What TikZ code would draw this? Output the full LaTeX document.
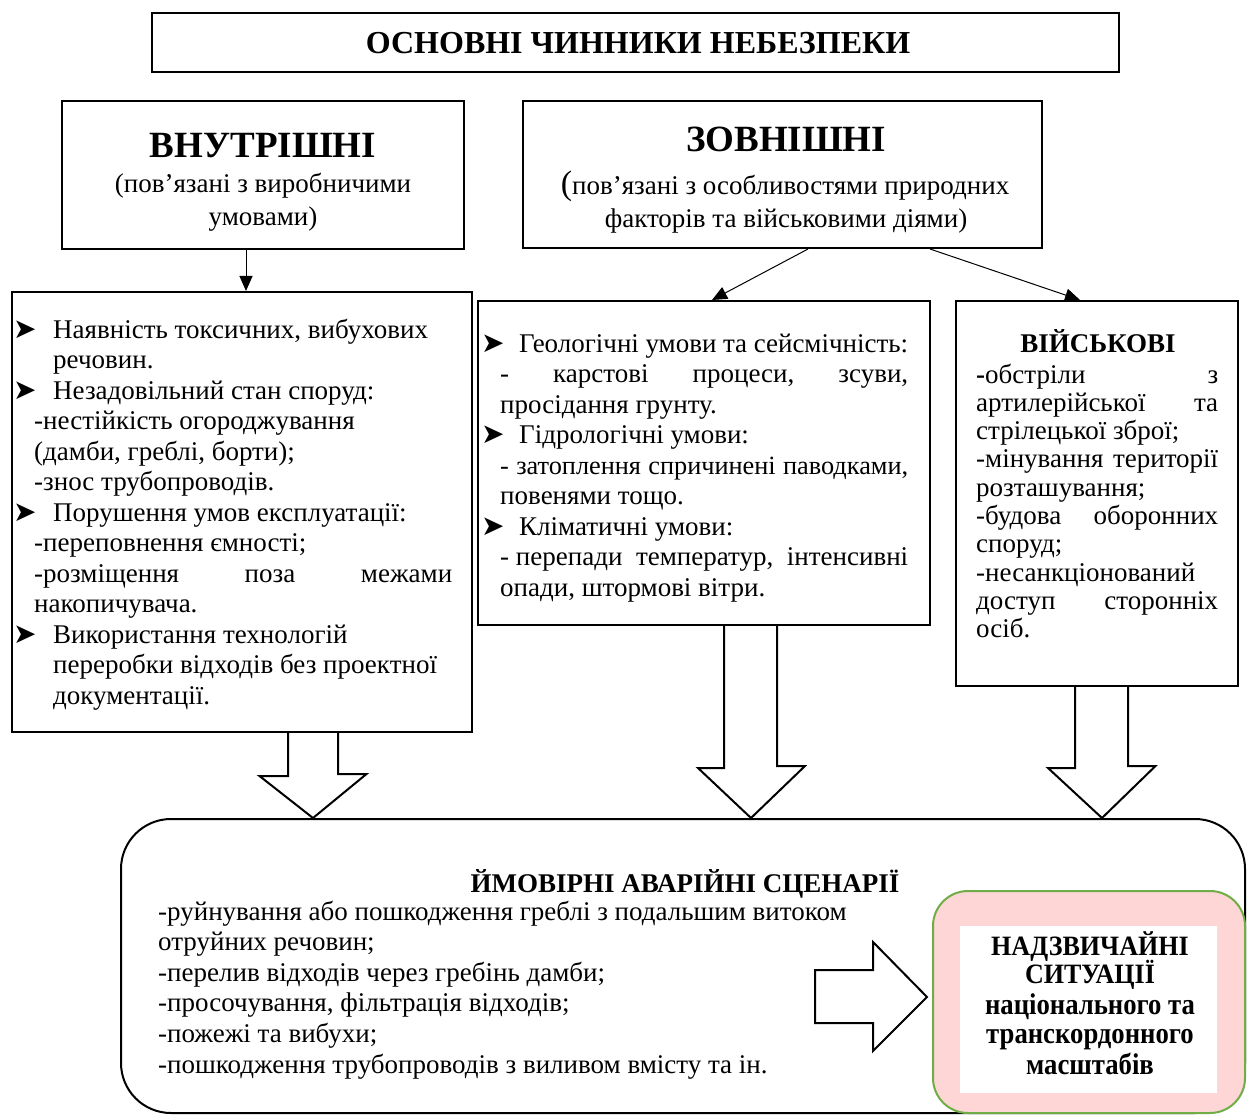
\documentclass[tikz,border=0pt]{standalone}
\usepackage{fontspec}
\usepackage{graphicx}
\setmainfont{Liberation Serif}
\newfontfamily\dvfont{DejaVu Sans}
\usetikzlibrary{arrows.meta,calc}
\definecolor{pinkfill}{RGB}{255,214,214}
\definecolor{greenline}{RGB}{112,173,71}
\newcommand\bulA{\makebox[39pt][l]{\hspace*{-1pt}\raisebox{0pt}{\dvfont\fontsize{28}{28}\selectfont ➤}}}
\newcommand\bulB{\makebox[37pt][l]{\hspace*{-1pt}\raisebox{0pt}{\dvfont\fontsize{28}{28}\selectfont ➤}}}
\tikzset{
  boxline/.style={draw, line width=2pt, inner sep=0pt},
  thinarrow/.style={line width=1pt, -{Triangle[length=15pt,width=13pt]}},
  blockarrow/.style={draw, line width=2pt, line join=miter},
  bodytext/.style={inner sep=0pt, anchor=base west, font=\fontsize{27}{30.5}\selectfont},
  ctext/.style={inner sep=0pt, anchor=base},
}
\begin{document}
\begin{tikzpicture}[x=1pt,y=-1pt]
\useasboundingbox (0,0) rectangle (1247,1115);

% title box
\node[boxline, line width=2.6pt, minimum width=967pt, minimum height=59pt] (title) at (635.5,42.5) {};
\node[ctext, font=\fontsize{32}{32}\selectfont\bfseries] (titletxt) at (638,54) {ОСНОВНІ ЧИННИКИ НЕБЕЗПЕКИ};

% internal / external boxes
\node[boxline, minimum width=402pt, minimum height=148pt] (vnut) at (263,175) {};
\node[ctext, font=\fontsize{37}{37}\selectfont\bfseries] (vnutT) at (263,158) {ВНУТРІШНІ};
\node[ctext, font=\fontsize{27}{27}\selectfont] (vnutS1) at (263,193) {(пов’язані з виробничими};
\node[ctext, font=\fontsize{27}{27}\selectfont] (vnutS2) at (263,226) {умовами)};

\node[boxline, minimum width=519pt, minimum height=147pt] (zovn) at (782.5,174.5) {};
\node[ctext, font=\fontsize{37}{37}\selectfont\bfseries] (zovnT) at (786,152) {ЗОВНІШНІ};
\node[ctext, font=\fontsize{27}{27}\selectfont] (zovnS1) at (785,195) {{\fontsize{34}{34}\selectfont (}пов’язані з особливостями природних};
\node[ctext, font=\fontsize{27}{27}\selectfont] (zovnS2) at (786,228) {факторів та військовими діями)};

% factor boxes
\node[boxline, minimum width=460pt, minimum height=440pt] (lbox) at (242,512) {};
\node[boxline, minimum width=452pt, minimum height=324pt] (mbox) at (704,463) {};
\node[boxline, minimum width=282pt, minimum height=385pt] (rbox) at (1097,493.5) {};

% thin arrows
\draw[thinarrow] ([xshift=-17pt]vnut.south) -- ([xshift=4pt]lbox.north);
\draw[thinarrow] ([xshift=25.5pt]zovn.south) -- ([xshift=8pt]mbox.north);
\draw[thinarrow] ([xshift=147.5pt]zovn.south) -- ([xshift=-17pt]rbox.north);

% left box text
\node[bodytext] (ltext) at (14,338) {\parbox[t]{438pt}{%
\bulA Наявність токсичних, вибухових\\
\hspace*{39pt}речовин.\\
\bulA Незадовільний стан споруд:\\
\hspace*{20pt}-нестійкість огороджування\\
\hspace*{20pt}(дамби, греблі, борти);\\
\hspace*{20pt}-знос трубопроводів.\\
\bulA Порушення умов експлуатації:\\
\hspace*{20pt}-переповнення ємності;\\
\hspace*{20pt}\makebox[418pt][s]{-розміщення\hfill поза\hfill межами}\\
\hspace*{20pt}накопичувача.\\
\bulA Використання технологій\\
\hspace*{39pt}переробки відходів без проектної\\
\hspace*{39pt}документації.}};

% middle box text
\node[bodytext] (mtext) at (482,352) {\parbox[t]{426pt}{%
\bulB Геологічні умови та сейсмічність:\\
\hspace*{18pt}\makebox[408pt][s]{-\hfill карстові\hfill процеси,\hfill зсуви,}\\
\hspace*{18pt}просідання грунту.\\
\bulB Гідрологічні умови:\\
\hspace*{18pt}{\fontsize{26.3}{30.5}\selectfont\makebox[408pt][s]{-\hfill затоплення\hfill спричинені\hfill паводками,}}\\
\hspace*{18pt}повенями тощо.\\
\bulB Кліматичні умови:\\
\hspace*{18pt}\makebox[408pt][s]{- перепади\hfill температур,\hfill інтенсивні}\\
\hspace*{18pt}опади, штормові вітри.}};

% right box text
\node[ctext, font=\fontsize{27}{27}\selectfont\bfseries] (rtitle) at (1098,352) {ВІЙСЬКОВІ};
\node[bodytext, font=\fontsize{27}{28.3}\selectfont] (rtext) at (976,383) {\parbox[t]{242pt}{%
\makebox[242pt][s]{{\bfseries -}обстріли\hfill з}\\
\makebox[242pt][s]{артилерійської\hfill та}\\
стрілецької зброї;\\
\makebox[242pt][s]{-мінування\hfill території}\\
розташування;\\
\makebox[242pt][s]{-будова\hfill оборонних}\\
споруд;\\
-несанкціонований\\
\makebox[242pt][s]{доступ\hfill сторонніх}\\
осіб.}};

% bottom scenario box
\node[boxline, rounded corners=50pt, minimum width=1124pt, minimum height=294pt] (scen) at (683,966) {};
\node[ctext, font=\fontsize{27}{27}\selectfont\bfseries] (scenT) at (685,892) {ЙМОВІРНІ АВАРІЙНІ СЦЕНАРІЇ};
\node[bodytext, font=\fontsize{27}{30.6}\selectfont] (scentext) at (158,920) {\parbox[t]{740pt}{%
-руйнування або пошкодження греблі з подальшим витоком\\
отруйних речовин;\\
-перелив відходів через гребінь дамби;\\
-просочування, фільтрація відходів;\\
-пожежі та вибухи;\\
-пошкодження трубопроводів з виливом вмісту та ін.}};

% block arrows (down)
\draw[blockarrow] ([xshift=46pt]lbox.south) -- ++(0,43) -- ++(-28.5,0) -- ([xshift=-370pt]scen.north) -- ++(53.5,-44) -- ++(-28.5,0) -- ++(0,-43);
\draw[blockarrow] ([xshift=20pt]mbox.south) -- ++(0,142) -- ++(-26,0) -- ([xshift=68pt]scen.north) -- ++(54,-52) -- ++(-28,0) -- ++(0,-142);
\draw[blockarrow] ([xshift=-22pt]rbox.south) -- ++(0,81) -- ++(-27,0) -- ([xshift=419pt]scen.north) -- ++(53.5,-52) -- ++(-27.5,0) -- ++(0,-81);

% pink result box
\node[draw=greenline, line width=2pt, fill=pinkfill, rounded corners=35pt, minimum width=312pt, minimum height=222pt, inner sep=0pt] (nads) at (1089,1002) {};
\node[fill=white, minimum width=257pt, minimum height=167pt, inner sep=0pt] (nadsin) at (1088.5,1009.5) {};
\node[ctext, font=\fontsize{28}{28}\selectfont\bfseries] (n1) at (1090,955) {\scalebox{0.93}[1]{НАДЗВИЧАЙНІ}};
\node[ctext, font=\fontsize{28}{28}\selectfont\bfseries] (n2) at (1090,983.5) {\scalebox{0.93}[1]{СИТУАЦІЇ}};
\node[ctext, font=\fontsize{30}{30}\selectfont\bfseries] (n3) at (1090,1014) {\scalebox{0.89}[1]{національного та}};
\node[ctext, font=\fontsize{30}{30}\selectfont\bfseries] (n4) at (1090,1043.5) {\scalebox{0.89}[1]{транскордонного}};
\node[ctext, font=\fontsize{30}{30}\selectfont\bfseries] (n5) at (1090,1074) {\scalebox{0.89}[1]{масштабів}};

% horizontal block arrow
\coordinate (ha) at ($(nads.west)+(-117,-32)$);
\draw[blockarrow] (ha) -- ++(58,0) -- ++(0,-28) -- ($(nads.west)+(-5,-5)$) -- ++(-54,54) -- ++(0,-28) -- ++(-58,0) -- cycle;
\end{tikzpicture}
\end{document}
